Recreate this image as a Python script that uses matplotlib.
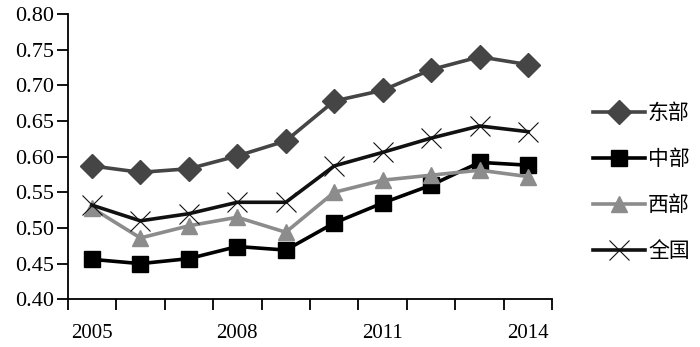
import matplotlib
matplotlib.use("Agg")
import matplotlib.pyplot as plt
import numpy as np

years = [2005, 2006, 2007, 2008, 2009, 2010, 2011, 2012, 2013, 2014]
east = [0.587, 0.578, 0.583, 0.601, 0.622, 0.678, 0.693, 0.722, 0.740, 0.729]
central = [0.456, 0.450, 0.457, 0.474, 0.469, 0.507, 0.535, 0.560, 0.592, 0.588]
west = [0.528, 0.486, 0.503, 0.515, 0.494, 0.550, 0.567, 0.574, 0.581, 0.572]
national = [0.532, 0.510, 0.520, 0.536, 0.536, 0.587, 0.606, 0.626, 0.643, 0.635]
labels = ["东部", "中部", "西部", "全国"]
shown_years = [2005, 2008, 2011, 2014]

serif = ["Liberation Serif", "DejaVu Serif"]
cjk = ["Noto Sans CJK SC", "DejaVu Sans"]

fig = plt.figure(figsize=(7.0, 3.47), dpi=100)
ax = fig.add_axes([0.0967, 0.1375, 0.6923, 0.8222])

x = np.arange(len(years))
ax.plot(x, east, color="#454545", lw=2.6, marker="D", ms=12, label=labels[0])
ax.plot(x, central, color="#000000", lw=2.6, marker="s", ms=12, label=labels[1])
ax.plot(x, west, color="#8c8c8c", lw=2.6, marker="^", ms=12, label=labels[2])
ax.plot(x, national, color="#111111", lw=2.6, marker="x", ms=14, mew=0.8,
        label=labels[3])

ax.set_xlim(-0.5, len(years) - 0.5)
ax.set_ylim(0.40, 0.80)
ax.set_yticks(np.arange(0.40, 0.801, 0.05))
ax.set_yticklabels([f"{v:.2f}" for v in np.arange(0.40, 0.801, 0.05)],
                   fontsize=16, family=serif)

ax.set_xticks(np.arange(-0.5, len(years)), labels=[])
ax.set_xticks([years.index(y) for y in shown_years], minor=True)
ax.set_xticklabels([str(y) for y in shown_years], minor=True,
                   fontsize=15, family=serif)
ax.tick_params(axis="x", which="major", direction="out", length=8, width=1.3)
ax.tick_params(axis="x", which="minor", length=0, pad=18)
ax.tick_params(axis="y", direction="out", length=8, width=1.3, pad=2)

for s in ["top", "right"]:
    ax.spines[s].set_visible(False)
for s in ["left", "bottom"]:
    ax.spines[s].set_linewidth(1.3)

ax.legend(loc="center left", bbox_to_anchor=(1.062, 0.41), frameon=False,
          prop={"family": cjk, "size": 15}, handlelength=2.5,
          labelspacing=1.15, handletextpad=0.15, borderpad=0)

fig.savefig("out.png", dpi=100)
